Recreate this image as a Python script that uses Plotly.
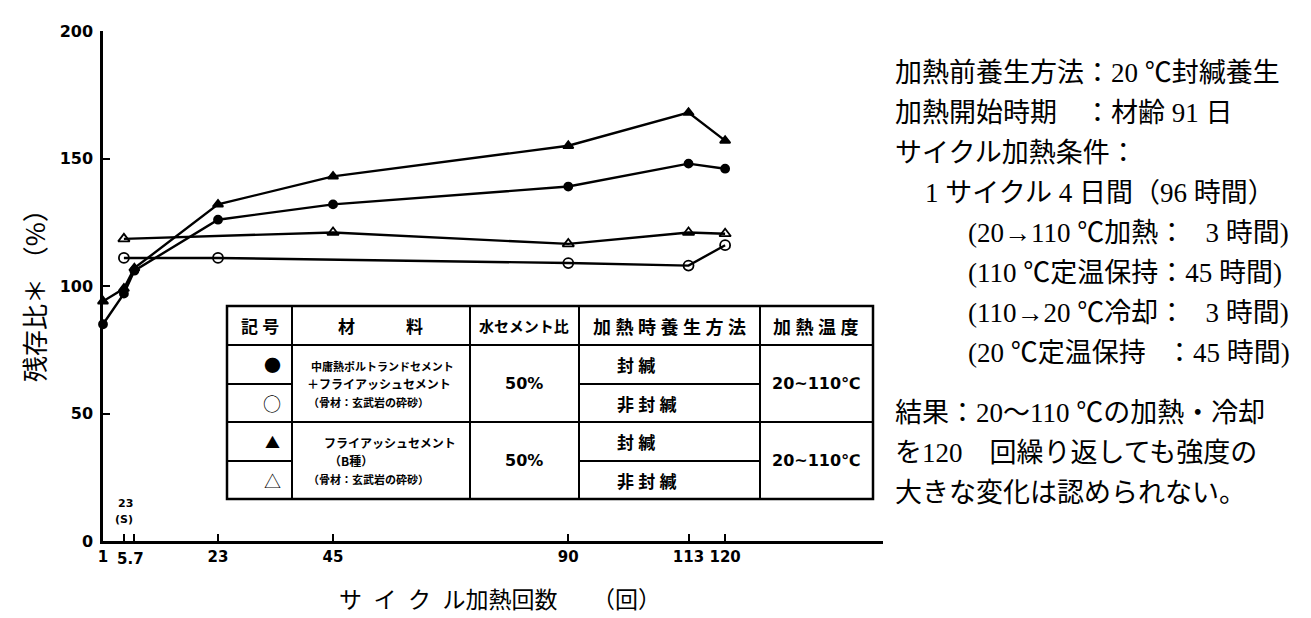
import plotly.graph_objects as go

# cycles (x) and residual strength ratio (%) per series
cycles_sealed_mix = [1, 5, 7, 23, 45, 90, 113, 120]
ratio_sealed_mix = [85, 97, 106, 126, 132, 139, 148, 146]

cycles_unsealed_mix = [5, 23, 90, 113, 120]
ratio_unsealed_mix = [111, 111, 109, 108, 116]

cycles_sealed_fa = [1, 5, 7, 23, 45, 90, 113, 120]
ratio_sealed_fa = [94, 99, 107, 132, 143, 155, 168, 157]

cycles_unsealed_fa = [5, 45, 90, 113, 120]
ratio_unsealed_fa = [118.5, 121, 116.5, 121, 120.5]

x_ticks = [1, 5, 7, 23, 45, 90, 113, 120, 150.2]
x_ticktext = ["1", "", "", "23", "45", "90", "113", "120", ""]
y_ticks = [0, 50, 100, 150, 200]

W, H = 1311, 618
L, R, T, B = 95, 875, 23, 533


def px(x):
    return (x - L) / (R - L)


def py(y):
    return (B - y) / (B - T)


JP = "Noto Sans CJK JP"
SERIF = "Liberation Serif, Noto Sans CJK JP"

fig = go.Figure()


def add_series(xs, ys, symbol, size):
    fig.add_trace(go.Scatter(
        x=xs, y=ys, mode="lines+markers", cliponaxis=False, showlegend=False,
        line=dict(color="black", width=2.4),
        marker=dict(symbol=symbol, size=size, color="black",
                    line=dict(color="black", width=1.8)),
    ))


add_series(cycles_unsealed_mix, ratio_unsealed_mix, "circle-open", 10)
add_series(cycles_unsealed_fa, ratio_unsealed_fa, "triangle-up-open", 10)
add_series(cycles_sealed_mix, ratio_sealed_mix, "circle", 8)
add_series(cycles_sealed_fa, ratio_sealed_fa, "triangle-up", 9)

# ---- legend table drawn with shapes ----
cols = [219, 284, 462, 571, 752, 865]
rows = [298, 337, 376, 414, 453, 491]
shapes = []


def hline(x0, x1, y, w=2):
    shapes.append(dict(type="line", xref="paper", yref="paper", x0=px(x0), x1=px(x1),
                       y0=py(y), y1=py(y), line=dict(color="black", width=w)))


def vline(x, y0, y1, w=2):
    shapes.append(dict(type="line", xref="paper", yref="paper", x0=px(x), x1=px(x),
                       y0=py(y0), y1=py(y1), line=dict(color="black", width=w)))


shapes.append(dict(type="rect", xref="paper", yref="paper", x0=px(cols[0]), x1=px(cols[-1]),
                   y0=py(rows[-1]), y1=py(rows[0]), line=dict(color="black", width=2.5)))
for c in cols[1:-1]:
    vline(c, rows[0], rows[-1])
hline(cols[0], cols[-1], rows[1])
hline(cols[0], cols[-1], rows[3])
hline(cols[0], cols[1], rows[2])
hline(cols[0], cols[1], rows[4])
hline(cols[3], cols[4], rows[2])
hline(cols[3], cols[4], rows[4])

annots = []


def txt(x, y, s, size, family=JP, anchor="center", bold=False, angle=0):
    annots.append(dict(xref="paper", yref="paper", x=px(x), y=py(y), text=s, showarrow=False,
                       xanchor=anchor, yanchor="middle", textangle=angle,
                       font=dict(family=family, size=size, color="black",
                                 weight="bold" if bold else "normal")))


def spaced(s, sp="\u2005"):
    return sp.join(s)


hy = (rows[0] + rows[1]) / 2
txt(252, hy, spaced("記号"), 17, bold=True)
txt(372, hy, "材\u3000\u3000\u3000料", 17, bold=True)
txt(516, hy, "水セメント比", 15, bold=True)
txt(661, hy, spaced("加熱時養生方法"), 18, bold=True)
txt(808, hy, spaced("加熱温度"), 18, bold=True)

sym_x = 264
txt(sym_x, (rows[1] + rows[2]) / 2, "●", 17)
txt(sym_x, (rows[2] + rows[3]) / 2, "○", 18)
txt(sym_x, (rows[3] + rows[4]) / 2, "▲", 15)
txt(sym_x, (rows[4] + rows[5]) / 2, "△", 17)

g1 = (rows[1] + rows[3]) / 2
g2 = (rows[3] + rows[5]) / 2
txt(374, g1 - 18, "中庸熱ポルトランドセメント", 11, bold=True)
txt(371, g1, "＋フライアッシュセメント", 12, bold=True)
txt(360, g1 + 18, "（骨材：玄武岩の砕砂）", 11, bold=True)
txt(382, g2 - 18, "フライアッシュセメント", 12, bold=True)
txt(343, g2, "（B種）", 12, bold=True)
txt(360, g2 + 18, "（骨材：玄武岩の砕砂）", 11, bold=True)

txt(516, g1, "50%", 16, family="DejaVu Sans", bold=True)
txt(516, g2, "50%", 16, family="DejaVu Sans", bold=True)
for r0 in (rows[1], rows[3]):
    txt(607, r0 + 19.5, spaced("封緘"), 17, anchor="left", bold=True)
    txt(607, r0 + 58.5, spaced("非封緘"), 17, anchor="left", bold=True)
txt(808, g1, "20~110℃", 16, family="DejaVu Sans", bold=True)
txt(808, g2, "20~110℃", 16, family="DejaVu Sans", bold=True)

# ---- axis decorations ----
txt(25, 281, "残存比＊ （%）", 26, angle=-90)
txt(492, 590, "サ\u2002イ\u2002ク\u2002ル加熱回数\u3000\u3000（回）", 23)
txt(122, 551, "5.7", 15, family="DejaVu Sans", bold=True)
txt(117, 495, "23", 11, family="DejaVu Sans", bold=True)
txt(116, 511, "(S)", 11, family="DejaVu Sans", bold=True)

# ---- conditions text on the right ----
note_lines = [
    (885, 65, "加熱前養生方法：20 ℃封緘養生"),
    (885, 105, "加熱開始時期\u3000：材齢 91 日"),
    (885, 145, "サイクル加熱条件："),
    (915, 185, "1 サイクル 4 日間（96 時間）"),
    (958, 225, "(20→110 ℃加熱：\u2002 3 時間)"),
    (958, 265, "(110 ℃定温保持：45 時間)"),
    (958, 305, "(110→20 ℃冷却：\u2002 3 時間)"),
    (958, 345, "(20 ℃定温保持\u2002 ：45 時間)"),
    (885, 405, "結果：20〜110 ℃の加熱・冷却"),
    (885, 445, "を120\u3000回繰り返しても強度の"),
    (885, 485, "大きな変化は認められない。"),
]
for x, y, s in note_lines:
    txt(x, y, s, 27, family=SERIF, anchor="left")

fig.update_layout(
    width=W, height=H,
    margin=dict(l=L, r=W - R, t=T, b=H - B),
    plot_bgcolor="white", paper_bgcolor="white",
    shapes=shapes, annotations=annots, showlegend=False,
)
fig.update_xaxes(
    range=[1, 150.2], tickvals=x_ticks, ticktext=x_ticktext,
    showgrid=False, zeroline=False, showline=True, linecolor="black", linewidth=2.5,
    ticks="inside", ticklen=7, tickwidth=2, tickcolor="black",
    tickfont=dict(family="DejaVu Sans", size=15, color="black", weight="bold"),
)
fig.update_yaxes(
    range=[0, 200], tickvals=y_ticks,
    showgrid=False, zeroline=False, showline=True, linecolor="black", linewidth=2.5,
    ticks="inside", ticklen=7, tickwidth=2, tickcolor="black", ticklabelstandoff=4,
    tickfont=dict(family="DejaVu Sans", size=16, color="black", weight="bold"),
)

fig.write_html("out.html")
